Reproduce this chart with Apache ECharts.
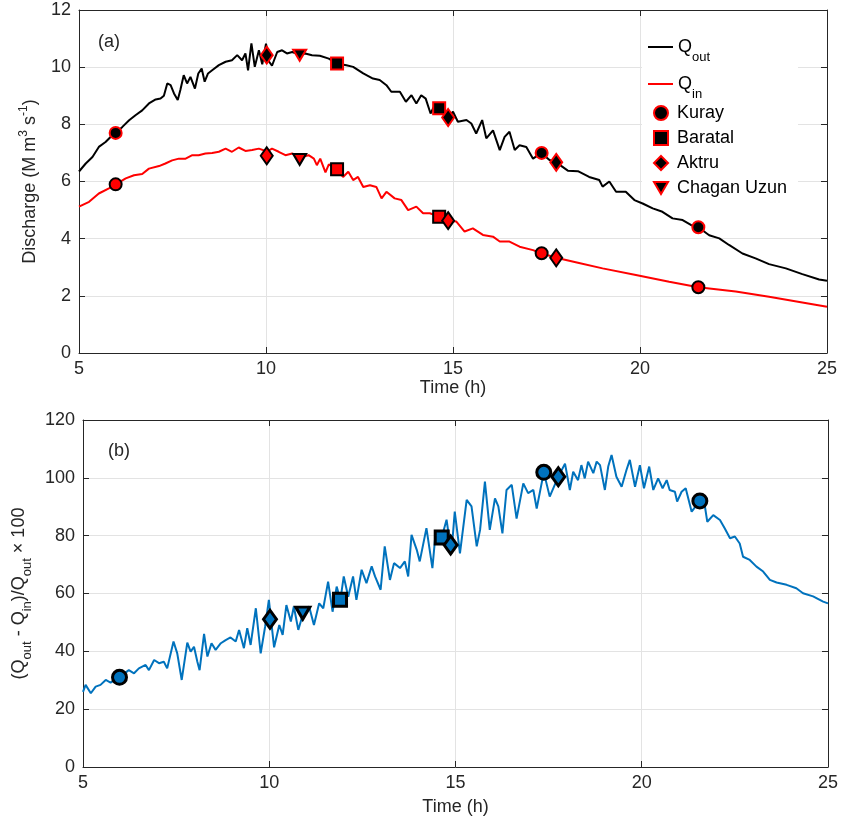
<!DOCTYPE html>
<html>
<head>
<meta charset="utf-8">
<script src="https://cdn.jsdelivr.net/npm/echarts@6/dist/echarts.min.js"></script>
<style>
  html, body { margin: 0; padding: 0; background: #fff; }
  #chart { width: 841px; height: 824px; }
</style>
</head>
<body>
<div id="chart"></div>
<script>
// ---- data: [time (h), value] ----
var qOut = [[5.00,6.35],[5.18,6.63],[5.36,6.86],[5.53,7.21],[5.71,7.38],[5.89,7.62],[5.98,7.70],[6.16,7.91],[6.34,8.14],[6.51,8.32],[6.69,8.49],[6.87,8.73],[7.05,8.87],[7.18,8.90],[7.27,9.00],[7.36,9.43],[7.45,9.37],[7.54,9.08],[7.64,8.85],[7.71,9.20],[7.80,9.72],[7.89,9.43],[7.98,9.66],[8.10,9.25],[8.19,9.78],[8.28,9.95],[8.36,9.49],[8.45,9.78],[8.56,9.89],[8.74,10.07],[8.92,10.19],[9.09,10.24],[9.23,10.42],[9.36,10.24],[9.45,10.48],[9.52,9.89],[9.61,10.83],[9.70,10.01],[9.81,10.59],[9.90,10.10],[10.00,10.82],[10.08,10.20],[10.16,10.05],[10.30,10.53],[10.43,10.59],[10.56,10.48],[10.70,10.53],[10.87,10.45],[11.05,10.48],[11.23,10.42],[11.44,10.40],[11.68,10.30],[11.88,10.13],[12.15,10.07],[12.33,10.01],[12.60,9.78],[12.86,9.60],[13.04,9.55],[13.22,9.37],[13.35,9.14],[13.58,9.14],[13.74,8.79],[13.89,9.02],[14.02,8.73],[14.15,9.02],[14.27,8.90],[14.40,8.38],[14.51,8.67],[14.63,8.56],[14.87,8.24],[15.00,8.44],[15.13,8.09],[15.36,8.15],[15.49,8.03],[15.62,7.68],[15.78,8.15],[15.89,7.51],[16.07,7.79],[16.25,7.10],[16.38,7.56],[16.51,7.74],[16.65,7.10],[16.78,7.27],[16.96,7.21],[17.14,6.80],[17.36,7.00],[17.58,6.75],[17.76,6.67],[18.07,6.38],[18.34,6.36],[18.64,6.16],[18.91,6.05],[19.00,5.82],[19.18,6.00],[19.36,5.64],[19.62,5.64],[19.85,5.35],[20.07,5.23],[20.34,5.06],[20.60,4.94],[20.87,4.71],[21.14,4.65],[21.36,4.48],[21.56,4.40],[21.85,4.12],[22.12,4.01],[22.38,3.78],[22.74,3.48],[23.09,3.31],[23.45,3.11],[23.90,2.96],[24.34,2.76],[24.79,2.57],[25.00,2.53]];

var qIn = [[5.00,5.12],[5.27,5.29],[5.53,5.58],[5.80,5.76],[5.98,5.90],[6.25,6.11],[6.47,6.22],[6.69,6.26],[6.87,6.45],[7.14,6.54],[7.31,6.63],[7.49,6.74],[7.67,6.80],[7.85,6.80],[8.03,6.92],[8.20,6.92],[8.38,6.98],[8.56,7.00],[8.74,7.04],[8.92,7.15],[9.09,7.04],[9.27,7.19],[9.45,7.07],[9.63,7.10],[9.81,7.15],[10.03,7.05],[10.16,7.15],[10.34,7.04],[10.52,6.92],[10.70,6.98],[10.92,6.85],[11.14,6.92],[11.28,6.80],[11.36,6.57],[11.45,6.80],[11.59,6.32],[11.68,6.60],[11.88,6.43],[12.06,6.16],[12.20,6.34],[12.33,6.05],[12.46,6.16],[12.60,5.81],[12.78,5.87],[12.95,5.81],[13.09,5.41],[13.22,5.64],[13.44,5.41],[13.62,5.35],[13.80,5.00],[14.02,5.12],[14.20,4.89],[14.38,4.89],[14.63,4.77],[14.87,4.63],[15.09,4.60],[15.31,4.25],[15.53,4.36],[15.80,4.13],[16.07,4.07],[16.25,3.90],[16.51,3.90],[16.78,3.72],[17.14,3.60],[17.36,3.49],[17.76,3.33],[18.34,3.16],[19.00,2.96],[19.89,2.73],[20.78,2.49],[21.56,2.30],[22.56,2.15],[23.45,1.97],[24.34,1.77],[25.00,1.62]];

var ratio = [[5.00,26.0],[5.07,28.4],[5.21,25.5],[5.34,27.8],[5.47,28.4],[5.61,30.1],[5.74,29.2],[5.97,31.0],[6.23,33.5],[6.37,32.4],[6.50,34.1],[6.68,35.3],[6.77,33.5],[6.91,37.0],[7.04,35.9],[7.17,36.4],[7.26,34.1],[7.43,43.4],[7.53,39.3],[7.65,30.1],[7.80,43.0],[7.89,39.9],[7.98,41.6],[8.07,36.4],[8.13,33.5],[8.25,46.0],[8.34,38.2],[8.45,42.8],[8.56,40.5],[8.70,42.8],[8.83,43.9],[8.96,44.8],[9.10,43.4],[9.19,47.4],[9.32,41.1],[9.41,48.0],[9.50,42.2],[9.64,54.9],[9.77,39.3],[9.89,48.6],[9.99,57.8],[10.13,41.4],[10.27,49.1],[10.36,45.7],[10.46,56.0],[10.58,50.3],[10.66,55.5],[10.78,47.4],[10.91,53.2],[11.07,55.5],[11.20,49.1],[11.34,56.6],[11.45,54.9],[11.58,64.1],[11.70,53.7],[11.81,62.4],[11.91,57.8],[12.00,65.9],[12.12,58.9],[12.25,65.9],[12.34,57.8],[12.48,68.2],[12.61,63.6],[12.75,69.4],[12.84,65.9],[12.99,61.3],[13.10,76.3],[13.24,64.7],[13.35,70.5],[13.51,68.8],[13.64,71.1],[13.73,65.9],[13.82,80.3],[13.96,75.1],[14.04,71.1],[14.22,82.6],[14.38,68.8],[14.45,78.6],[14.63,79.4],[14.76,85.5],[14.89,73.9],[14.98,88.3],[15.12,73.9],[15.30,92.4],[15.43,90.1],[15.57,76.3],[15.66,82.0],[15.79,98.7],[15.92,82.0],[16.06,92.9],[16.15,90.1],[16.26,80.8],[16.37,95.8],[16.51,97.6],[16.64,85.9],[16.82,98.1],[16.95,94.7],[17.09,95.8],[17.18,89.4],[17.37,101.9],[17.53,93.5],[17.76,100.4],[17.94,104.9],[18.07,95.8],[18.16,102.1],[18.29,99.2],[18.38,104.4],[18.47,99.8],[18.56,105.6],[18.70,101.6],[18.79,105.6],[18.88,104.4],[19.01,95.8],[19.10,103.9],[19.19,107.9],[19.32,100.4],[19.46,96.9],[19.59,102.7],[19.68,106.2],[19.82,96.9],[19.95,104.4],[20.06,96.4],[20.20,103.9],[20.31,95.8],[20.44,99.8],[20.56,96.4],[20.67,99.2],[20.75,95.8],[20.89,95.2],[20.95,91.8],[21.07,95.2],[21.18,96.4],[21.34,88.3],[21.56,92.0],[21.69,90.6],[21.76,84.8],[21.92,87.1],[22.10,85.4],[22.23,82.5],[22.37,79.1],[22.50,79.7],[22.63,77.3],[22.72,72.7],[22.90,71.6],[23.08,69.3],[23.26,67.6],[23.44,64.7],[23.62,63.8],[23.89,63.0],[24.15,61.8],[24.33,60.1],[24.60,59.0],[24.87,57.2],[25.00,56.6]];

// station markers: times, and values on Qout, Qin and ratio curves
var kurayT = [5.98, 17.37, 21.56];
var kurayOut = [7.70, 7.00, 4.40];
var kurayIn = [5.90, 3.49, 2.30];
var kurayRatio = [31.0, 101.9, 92.0];

var baratalT = [11.90, 14.63];
var baratalOut = [10.13, 8.56];
var baratalIn = [6.43, 4.77];
var baratalRatio = [57.8, 79.4];

var aktruT = [10.02, 14.87, 17.76];
var aktruOut = [10.42, 8.24, 6.67];
var aktruIn = [6.90, 4.63, 3.33];
var aktruRatio = [51.1, 76.8, 100.4];

var chaganT = [10.90];
var chaganOut = [10.42];
var chaganIn = [6.77];
var chaganRatio = [53.2];

var FONT = 'Liberation Sans, Arial, Helvetica, sans-serif';
var INK = '#262626';
var TRI_DOWN = 'path://M0,0L20,0L10,17Z';

function pairs(t, v) {
  return t.map(function (x, i) { return [x, v[i]]; });
}

function boxAxes(grid, isX, min, max, interval, name, nameGap, rich) {
  var main = {
    gridIndex: grid, type: 'value', min: min, max: max, interval: interval,
    position: isX ? 'bottom' : 'left',
    axisLine: { show: true, onZero: false, lineStyle: { color: INK, width: 1 } },
    axisTick: { show: true, inside: true, length: 6, lineStyle: { color: INK } },
    axisLabel: { fontSize: 18, color: INK, fontFamily: FONT, margin: isX ? 7 : 8 },
    splitLine: { show: true, lineStyle: { color: '#e3e3e3', width: 1 } },
    name: name, nameLocation: 'middle', nameGap: nameGap,
    nameTextStyle: { fontSize: 18, color: INK, fontFamily: FONT, rich: rich }
  };
  var other = {
    gridIndex: grid, type: 'value', min: min, max: max, interval: interval,
    position: isX ? 'top' : 'right',
    axisLine: { show: true, onZero: false, lineStyle: { color: INK, width: 1 } },
    axisTick: { show: true, inside: true, length: 6, lineStyle: { color: INK } },
    axisLabel: { show: false },
    splitLine: { show: false }
  };
  return [main, other];
}

var supRich = {
  n: { fontSize: 18, lineHeight: 24, fontFamily: FONT, color: INK },
  sup: { fontSize: 12, lineHeight: 14, verticalAlign: 'top', fontFamily: FONT, color: INK }
};
var subRich = {
  n: { fontSize: 18, lineHeight: 30, fontFamily: FONT, color: INK },
  sub: { fontSize: 13, lineHeight: 14, verticalAlign: 'bottom', fontFamily: FONT, color: INK }
};

var xAxes = boxAxes(0, true, 5, 25, 5, 'Time (h)', 20)
  .concat(boxAxes(1, true, 5, 25, 5, 'Time (h)', 31));
var yAxes = boxAxes(0, false, 0, 12, 2, '{n|Discharge (M m}{sup|3}{n| s}{sup|-1}{n|)}', 37, supRich)
  .concat(boxAxes(1, false, 0, 120, 20, '{n|(Q}{sub|out}{n| - Q}{sub|in}{n|)/Q}{sub|out}{n| × 100}', 40, subRich));

function markerSeries(name, symbol, size, t, v, axis, fill, edge, bw) {
  return {
    name: name, type: 'scatter', xAxisIndex: axis, yAxisIndex: axis,
    symbol: symbol, symbolSize: size, z: 5,
    itemStyle: { color: fill, borderColor: edge, borderWidth: bw, opacity: 1 },
    data: pairs(t, v)
  };
}

var chart = echarts.init(document.getElementById('chart'));
chart.setOption({
  animation: false,
  backgroundColor: '#fff',
  grid: [
    { left: 79, top: 10, width: 748, height: 343 },
    { left: 83, top: 420, width: 745, height: 347 }
  ],
  xAxis: xAxes,
  yAxis: yAxes,
  legend: [{
    data: [{ name: 'Qout', icon: 'rect' }, { name: 'Qin', icon: 'rect' }],
    orient: 'vertical', left: 648, top: 38, padding: 0, itemGap: 11,
    itemWidth: 25, itemHeight: 2,
    formatter: function (name) {
      return name === 'Qout' ? '{q|Q}{s|out}' : '{q|Q}{s|in}';
    },
    textStyle: {
      color: '#000',
      rich: {
        q: { fontSize: 18, lineHeight: 34, fontFamily: FONT, color: '#000' },
        s: { fontSize: 13, lineHeight: 14, verticalAlign: 'bottom', fontFamily: FONT, color: '#000' }
      }
    }
  }, {
    data: ['Kuray', 'Baratal', 'Aktru', 'Chagan Uzun'],
    orient: 'vertical', left: 653, top: 103, padding: 0, itemGap: 5,
    itemWidth: 14, itemHeight: 14,
    textStyle: { fontSize: 18, lineHeight: 20, fontFamily: FONT, color: '#000', padding: [0, 0, 0, 4] }
  }],
  graphic: [
    { type: 'rect', z: 1, shape: { x: 642, y: 27, width: 156, height: 178 }, style: { fill: '#fff' } },
    { type: 'text', z: 10, left: 98, top: 33, style: { text: '(a)', fontSize: 18, fontFamily: FONT, fill: INK } },
    { type: 'text', z: 10, left: 108, top: 442, style: { text: '(b)', fontSize: 18, fontFamily: FONT, fill: INK } }
  ],
  series: [
    { name: 'Qout', type: 'line', xAxisIndex: 0, yAxisIndex: 0, symbol: 'none', z: 3,
      lineStyle: { color: '#000', width: 2 }, itemStyle: { color: '#000' }, data: qOut },
    { name: 'Qin', type: 'line', xAxisIndex: 0, yAxisIndex: 0, symbol: 'none', z: 3,
      lineStyle: { color: '#ff0000', width: 2 }, itemStyle: { color: '#ff0000' }, data: qIn },
    { name: 'ratio', type: 'line', xAxisIndex: 2, yAxisIndex: 2, symbol: 'none', z: 3,
      lineStyle: { color: '#0072BD', width: 2 }, data: ratio },

    markerSeries('Kuray', 'circle', 12, kurayT, kurayOut, 0, '#000', '#ff0000', 2),
    markerSeries('Baratal', 'rect', 12, baratalT, baratalOut, 0, '#000', '#ff0000', 2),
    markerSeries('Aktru', 'diamond', [12, 17], aktruT, aktruOut, 0, '#000', '#ff0000', 2),
    markerSeries('Chagan Uzun', TRI_DOWN, [13, 11], chaganT, chaganOut, 0, '#000', '#ff0000', 2),

    markerSeries('Kuray in', 'circle', 12, kurayT, kurayIn, 0, '#ff0000', '#000', 2),
    markerSeries('Baratal in', 'rect', 12, baratalT, baratalIn, 0, '#ff0000', '#000', 2),
    markerSeries('Aktru in', 'diamond', [12, 17], aktruT, aktruIn, 0, '#ff0000', '#000', 2),
    markerSeries('Chagan Uzun in', TRI_DOWN, [13, 11], chaganT, chaganIn, 0, '#ff0000', '#000', 2),

    markerSeries('Kuray ratio', 'circle', 14, kurayT, kurayRatio, 2, '#0072BD', '#000', 3),
    markerSeries('Baratal ratio', 'rect', 13, baratalT, baratalRatio, 2, '#0072BD', '#000', 3),
    markerSeries('Aktru ratio', 'diamond', [13, 18], aktruT, aktruRatio, 2, '#0072BD', '#000', 3),
    markerSeries('Chagan Uzun ratio', TRI_DOWN, [14, 12], chaganT, chaganRatio, 2, '#0072BD', '#000', 3)
  ]
});
</script>
</body>
</html>
